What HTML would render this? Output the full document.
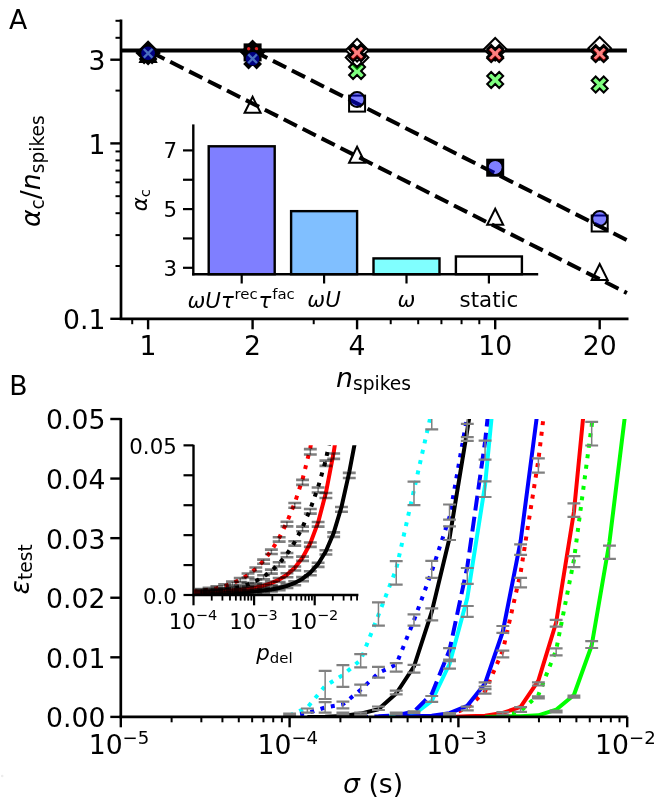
<!DOCTYPE html>
<html><head><meta charset="utf-8"><style>html,body{margin:0;padding:0;background:#fff;}svg{display:block;filter:opacity(1);}</style></head>
<body><svg width="662" height="802" viewBox="0 0 662 802" font-family="'DejaVu Sans', 'Liberation Sans', sans-serif" fill="#000">
<rect width="662" height="802" fill="#fff"/>
<defs><clipPath id="cA"><rect x="121" y="19.6" width="507.5" height="299.2"/></clipPath><clipPath id="cB"><rect x="120.8" y="419" width="506.7" height="297.9"/></clipPath><clipPath id="cI"><rect x="193.5" y="445.3" width="165" height="149.7"/></clipPath></defs>
<text x="8.90" y="29.00" font-size="26.67" text-anchor="start" >A</text>
<line x1="110.30" y1="318.80" x2="121.00" y2="318.80" stroke="#000" stroke-width="2.4" />
<line x1="110.30" y1="143.40" x2="121.00" y2="143.40" stroke="#000" stroke-width="2.4" />
<line x1="110.30" y1="59.71" x2="121.00" y2="59.71" stroke="#000" stroke-width="2.4" />
<line x1="115.50" y1="266.00" x2="121.00" y2="266.00" stroke="#000" stroke-width="2.0" />
<line x1="115.50" y1="235.11" x2="121.00" y2="235.11" stroke="#000" stroke-width="2.0" />
<line x1="115.50" y1="213.20" x2="121.00" y2="213.20" stroke="#000" stroke-width="2.0" />
<line x1="115.50" y1="196.20" x2="121.00" y2="196.20" stroke="#000" stroke-width="2.0" />
<line x1="115.50" y1="182.31" x2="121.00" y2="182.31" stroke="#000" stroke-width="2.0" />
<line x1="115.50" y1="170.57" x2="121.00" y2="170.57" stroke="#000" stroke-width="2.0" />
<line x1="115.50" y1="160.40" x2="121.00" y2="160.40" stroke="#000" stroke-width="2.0" />
<line x1="115.50" y1="151.43" x2="121.00" y2="151.43" stroke="#000" stroke-width="2.0" />
<line x1="115.50" y1="90.60" x2="121.00" y2="90.60" stroke="#000" stroke-width="2.0" />
<line x1="115.50" y1="37.80" x2="121.00" y2="37.80" stroke="#000" stroke-width="2.0" />
<line x1="115.50" y1="20.80" x2="121.00" y2="20.80" stroke="#000" stroke-width="2.0" />
<line x1="148.10" y1="318.80" x2="148.10" y2="329.30" stroke="#000" stroke-width="2.4" />
<line x1="252.59" y1="318.80" x2="252.59" y2="329.30" stroke="#000" stroke-width="2.4" />
<line x1="357.08" y1="318.80" x2="357.08" y2="329.30" stroke="#000" stroke-width="2.4" />
<line x1="495.20" y1="318.80" x2="495.20" y2="329.30" stroke="#000" stroke-width="2.4" />
<line x1="599.69" y1="318.80" x2="599.69" y2="329.30" stroke="#000" stroke-width="2.4" />
<line x1="132.22" y1="318.80" x2="132.22" y2="324.20" stroke="#000" stroke-width="2.0" />
<line x1="313.71" y1="318.80" x2="313.71" y2="324.20" stroke="#000" stroke-width="2.0" />
<line x1="390.71" y1="318.80" x2="390.71" y2="324.20" stroke="#000" stroke-width="2.0" />
<line x1="418.20" y1="318.80" x2="418.20" y2="324.20" stroke="#000" stroke-width="2.0" />
<line x1="441.43" y1="318.80" x2="441.43" y2="324.20" stroke="#000" stroke-width="2.0" />
<line x1="461.56" y1="318.80" x2="461.56" y2="324.20" stroke="#000" stroke-width="2.0" />
<line x1="479.32" y1="318.80" x2="479.32" y2="324.20" stroke="#000" stroke-width="2.0" />
<line x1="121.00" y1="19.60" x2="121.00" y2="320.10" stroke="#000" stroke-width="2.7" />
<line x1="119.70" y1="318.80" x2="628.50" y2="318.80" stroke="#000" stroke-width="2.7" />
<text x="105.40" y="70.00" font-size="26.67" text-anchor="end" >3</text>
<text x="105.40" y="153.90" font-size="26.67" text-anchor="end" >1</text>
<text x="105.40" y="329.10" font-size="26.67" text-anchor="end" >0.1</text>
<text x="148.10" y="355.40" font-size="26.67" text-anchor="middle" >1</text>
<text x="252.59" y="355.40" font-size="26.67" text-anchor="middle" >2</text>
<text x="357.08" y="355.40" font-size="26.67" text-anchor="middle" >4</text>
<text x="495.20" y="355.40" font-size="26.67" text-anchor="middle" >10</text>
<text x="599.69" y="355.40" font-size="26.67" text-anchor="middle" >20</text>
<text x="336" y="386.7" font-size="26.67"><tspan font-style="italic">n</tspan><tspan font-size="18.67" dy="3.6">spikes</tspan></text>
<text transform="translate(40.3,227) rotate(-90)" font-size="26.67"><tspan font-style="italic">α</tspan><tspan font-size="18.67" dy="3.6">c</tspan><tspan dy="-3.6">/</tspan><tspan font-style="italic">n</tspan><tspan font-size="18.67" dy="3.6">spikes</tspan></text>
<rect x="208.70" y="146.29" width="66.0" height="127.91" fill="#7f7fff" stroke="#000" stroke-width="2.4"/>
<rect x="291.10" y="211.15" width="66.0" height="63.05" fill="#80bfff" stroke="#000" stroke-width="2.4"/>
<rect x="373.50" y="258.41" width="66.0" height="15.79" fill="#80ffff" stroke="#000" stroke-width="2.4"/>
<rect x="455.90" y="256.47" width="66.0" height="17.73" fill="#ffffff" stroke="#000" stroke-width="2.4"/>
<line x1="193.30" y1="124.40" x2="193.30" y2="275.40" stroke="#000" stroke-width="2.4" />
<line x1="192.10" y1="274.20" x2="538.20" y2="274.20" stroke="#000" stroke-width="2.4" />
<line x1="183.00" y1="267.80" x2="193.30" y2="267.80" stroke="#000" stroke-width="2.2" />
<line x1="183.00" y1="238.45" x2="193.30" y2="238.45" stroke="#000" stroke-width="2.2" />
<line x1="183.00" y1="209.10" x2="193.30" y2="209.10" stroke="#000" stroke-width="2.2" />
<line x1="183.00" y1="179.75" x2="193.30" y2="179.75" stroke="#000" stroke-width="2.2" />
<line x1="183.00" y1="150.40" x2="193.30" y2="150.40" stroke="#000" stroke-width="2.2" />
<line x1="241.70" y1="274.20" x2="241.70" y2="283.50" stroke="#000" stroke-width="2.2" />
<line x1="324.10" y1="274.20" x2="324.10" y2="283.50" stroke="#000" stroke-width="2.2" />
<line x1="406.50" y1="274.20" x2="406.50" y2="283.50" stroke="#000" stroke-width="2.2" />
<line x1="488.90" y1="274.20" x2="488.90" y2="283.50" stroke="#000" stroke-width="2.2" />
<text x="177.00" y="158.40" font-size="21.33" text-anchor="end" >7</text>
<text x="177.00" y="217.10" font-size="21.33" text-anchor="end" >5</text>
<text x="177.00" y="275.80" font-size="21.33" text-anchor="end" >3</text>
<text transform="translate(146.6,211.2) rotate(-90)" font-size="21.33"><tspan font-style="italic">α</tspan><tspan font-size="14.93" dy="2.9">c</tspan></text>
<text x="187.5" y="308.2" font-size="21.33"><tspan font-style="italic">ωUτ</tspan><tspan font-size="14.93" dx="0.6" dy="-9.2">rec</tspan><tspan font-style="italic" dx="0.9" dy="9.2">τ</tspan><tspan font-size="14.93" dx="0.8" dy="-9.2">fac</tspan></text>
<text x="324.10" y="306.6" font-size="21.33" text-anchor="middle" font-style="italic">ωU</text>
<text x="406.50" y="306.6" font-size="21.33" text-anchor="middle" font-style="italic">ω</text>
<text x="488.90" y="306.6" font-size="21.33" text-anchor="middle">static</text>
<g clip-path="url(#cA)">
<line x1="121.00" y1="50.60" x2="626.90" y2="50.60" stroke="#000" stroke-width="4" />
</g>
<path d="M148.10,46.00 L156.10,62.00 L140.10,62.00 Z" fill="#000" stroke="#000" stroke-width="2.0"/>
<path d="M148.10,41.59 L159.41,52.90 L148.10,64.21 L136.79,52.90 Z" fill="#000" stroke="#000" stroke-width="2.0"/>
<path d="M144.10,47.00 L148.10,51.00 L152.10,47.00 L156.10,51.00 L152.10,55.00 L156.10,59.00 L152.10,63.00 L148.10,59.00 L144.10,63.00 L140.10,59.00 L144.10,55.00 L140.10,51.00 Z" fill="#000" stroke="#000" stroke-width="2.0"/>
<path d="M252.59,96.80 L260.59,112.80 L244.59,112.80 Z" fill="#fff" stroke="#000" stroke-width="2.0"/>
<path d="M252.59,40.99 L263.90,52.30 L252.59,63.61 L241.27,52.30 Z" fill="#000" stroke="#000" stroke-width="2.0"/>
<rect x="244.59" y="44.40" width="16.0" height="16.0" fill="#000" stroke="#000" stroke-width="2.0"/>
<path d="M248.59,52.00 L252.59,56.00 L256.59,52.00 L260.59,56.00 L256.59,60.00 L260.59,64.00 L256.59,68.00 L252.59,64.00 L248.59,68.00 L244.59,64.00 L248.59,60.00 L244.59,56.00 Z" fill="#000" stroke="#000" stroke-width="2.0"/>
<circle cx="248.69" cy="48.7" r="1.7" fill="#e02020"/><circle cx="256.49" cy="48.7" r="1.7" fill="#e02020"/>
<path d="M357.08,146.70 L365.08,162.70 L349.08,162.70 Z" fill="#fff" stroke="#000" stroke-width="2.0"/>
<path d="M357.08,46.19 L368.39,57.50 L357.08,68.81 L345.76,57.50 Z" fill="#fff" stroke="#000" stroke-width="2.0"/>
<path d="M357.08,38.89 L368.39,50.20 L357.08,61.51 L345.76,50.20 Z" fill="#fff" stroke="#000" stroke-width="2.0"/>
<path d="M353.08,44.00 L357.08,48.00 L361.08,44.00 L365.08,48.00 L361.08,52.00 L365.08,56.00 L361.08,60.00 L357.08,56.00 L353.08,60.00 L349.08,56.00 L353.08,52.00 L349.08,48.00 Z" fill="#fff" stroke="#000" stroke-width="2.0"/>
<path d="M353.08,45.30 L357.08,49.30 L361.08,45.30 L365.08,49.30 L361.08,53.30 L365.08,57.30 L361.08,61.30 L357.08,57.30 L353.08,61.30 L349.08,57.30 L353.08,53.30 L349.08,49.30 Z" fill="rgba(255,0,0,0.5)" stroke="#000" stroke-width="2.0"/>
<path d="M353.08,63.00 L357.08,67.00 L361.08,63.00 L365.08,67.00 L361.08,71.00 L365.08,75.00 L361.08,79.00 L357.08,75.00 L353.08,79.00 L349.08,75.00 L353.08,71.00 L349.08,67.00 Z" fill="rgba(0,255,0,0.5)" stroke="#000" stroke-width="2.0"/>
<rect x="349.08" y="95.60" width="16.0" height="16.0" fill="#fff" stroke="#000" stroke-width="2.0"/>
<path d="M495.20,208.80 L503.20,224.80 L487.20,224.80 Z" fill="#fff" stroke="#000" stroke-width="2.0"/>
<path d="M495.20,37.99 L506.51,49.30 L495.20,60.61 L483.89,49.30 Z" fill="#fff" stroke="#000" stroke-width="2.0"/>
<path d="M491.20,44.90 L495.20,48.90 L499.20,44.90 L503.20,48.90 L499.20,52.90 L503.20,56.90 L499.20,60.90 L495.20,56.90 L491.20,60.90 L487.20,56.90 L491.20,52.90 L487.20,48.90 Z" fill="#fff" stroke="#000" stroke-width="2.0"/>
<path d="M491.20,46.20 L495.20,50.20 L499.20,46.20 L503.20,50.20 L499.20,54.20 L503.20,58.20 L499.20,62.20 L495.20,58.20 L491.20,62.20 L487.20,58.20 L491.20,54.20 L487.20,50.20 Z" fill="rgba(255,0,0,0.5)" stroke="#000" stroke-width="2.0"/>
<path d="M491.20,72.00 L495.20,76.00 L499.20,72.00 L503.20,76.00 L499.20,80.00 L503.20,84.00 L499.20,88.00 L495.20,84.00 L491.20,88.00 L487.20,84.00 L491.20,80.00 L487.20,76.00 Z" fill="rgba(0,255,0,0.5)" stroke="#000" stroke-width="2.0"/>
<rect x="487.20" y="159.70" width="16.0" height="16.0" fill="#000" stroke="#000" stroke-width="2.0"/>
<circle cx="495.20" cy="167.40" r="6.8" fill="#fff" stroke="none" stroke-width="0"/>
<path d="M599.69,264.00 L607.69,280.00 L591.69,280.00 Z" fill="#fff" stroke="#000" stroke-width="2.0"/>
<path d="M599.69,36.99 L611.00,48.30 L599.69,59.61 L588.37,48.30 Z" fill="#fff" stroke="#000" stroke-width="2.0"/>
<path d="M595.69,44.90 L599.69,48.90 L603.69,44.90 L607.69,48.90 L603.69,52.90 L607.69,56.90 L603.69,60.90 L599.69,56.90 L595.69,60.90 L591.69,56.90 L595.69,52.90 L591.69,48.90 Z" fill="#fff" stroke="#000" stroke-width="2.0"/>
<path d="M595.69,46.20 L599.69,50.20 L603.69,46.20 L607.69,50.20 L603.69,54.20 L607.69,58.20 L603.69,62.20 L599.69,58.20 L595.69,62.20 L591.69,58.20 L595.69,54.20 L591.69,50.20 Z" fill="rgba(255,0,0,0.5)" stroke="#000" stroke-width="2.0"/>
<path d="M595.69,76.50 L599.69,80.50 L603.69,76.50 L607.69,80.50 L603.69,84.50 L607.69,88.50 L603.69,92.50 L599.69,88.50 L595.69,92.50 L591.69,88.50 L595.69,84.50 L591.69,80.50 Z" fill="rgba(0,255,0,0.5)" stroke="#000" stroke-width="2.0"/>
<rect x="591.69" y="215.50" width="16.0" height="16.0" fill="#fff" stroke="#000" stroke-width="2.0"/>
<g clip-path="url(#cA)">
<line x1="148.10" y1="50.60" x2="626.9" y2="292.97" stroke="#000" stroke-width="4" stroke-dasharray="14.8 6.4" stroke-dashoffset="-3.6"/>
<line x1="252.59" y1="50.60" x2="626.9" y2="240.08" stroke="#000" stroke-width="4" stroke-dasharray="14.8 6.4" stroke-dashoffset="-1.6"/>
</g>
<circle cx="148.10" cy="53.30" r="6.8" fill="#000080"/>
<path d="M143.80,49.00 L152.40,57.60 M143.80,57.60 L152.40,49.00" stroke="#4a70c0" stroke-width="2.3"/>
<circle cx="252.59" cy="58.70" r="6.8" fill="#000080"/>
<path d="M248.29,54.40 L256.89,63.00 M248.29,63.00 L256.89,54.40" stroke="#4a70c0" stroke-width="2.3"/>
<circle cx="357.08" cy="99.50" r="7.5" fill="rgba(0,0,255,0.5)" stroke="#000" stroke-width="2"/>
<circle cx="495.20" cy="167.40" r="7.5" fill="rgba(0,0,255,0.5)" stroke="#000" stroke-width="2"/>
<circle cx="599.69" cy="218.50" r="7.5" fill="rgba(0,0,255,0.5)" stroke="#000" stroke-width="2"/>
<circle cx="2.2" cy="776" r="1.3" fill="#ececec"/>
<text x="9.30" y="394.70" font-size="26.67" text-anchor="start" >B</text>
<text x="105.40" y="727.30" font-size="26.67" text-anchor="end" >0.00</text>
<text x="105.40" y="667.72" font-size="26.67" text-anchor="end" >0.01</text>
<text x="105.40" y="608.14" font-size="26.67" text-anchor="end" >0.02</text>
<text x="105.40" y="548.56" font-size="26.67" text-anchor="end" >0.03</text>
<text x="105.40" y="488.98" font-size="26.67" text-anchor="end" >0.04</text>
<text x="105.40" y="429.40" font-size="26.67" text-anchor="end" >0.05</text>
<text x="119.00" y="754.20" font-size="26.67" text-anchor="middle">10<tspan font-size="18.14" dx="0.0" dy="-9.87">−5</tspan></text>
<text x="287.80" y="754.20" font-size="26.67" text-anchor="middle">10<tspan font-size="18.14" dx="0.0" dy="-9.87">−4</tspan></text>
<text x="456.60" y="754.20" font-size="26.67" text-anchor="middle">10<tspan font-size="18.14" dx="0.0" dy="-9.87">−3</tspan></text>
<text x="625.40" y="754.20" font-size="26.67" text-anchor="middle">10<tspan font-size="18.14" dx="0.0" dy="-9.87">−2</tspan></text>
<text x="343" y="792.5" font-size="26.67"><tspan font-style="italic">σ</tspan> (s)</text>
<text transform="translate(29.2,594.5) rotate(-90)" font-size="26.67"><tspan font-style="italic">ε</tspan><tspan font-size="18.67" dy="3.1">test</tspan></text>
<g clip-path="url(#cB)" fill="none" stroke-linejoin="round">
<path d="M289.60,715.50 L307.37,707.50 L325.14,686.00 L342.91,675.00 L360.68,660.00 L378.45,615.00 L396.22,569.00 L413.99,490.00 L431.76,411.00 L449.53,330.00" stroke="#00ffff" stroke-width="4" stroke-dasharray="4 6.6" />
<path d="M289.60,716.00 L307.37,713.20 L325.14,707.50 L342.91,704.30 L360.68,689.80 L378.45,673.00 L396.22,664.50 L413.99,620.30 L431.76,571.50 L449.53,517.00 L467.30,416.00 L485.07,300.00" stroke="#0000ff" stroke-width="4" stroke-dasharray="4 6.6" />
<path d="M307.37,716.89 L325.14,716.80 L342.91,716.00 L360.68,713.60 L378.45,709.20 L396.22,693.50 L413.99,666.50 L431.76,611.85 L449.53,538.08 L467.30,430.00 L485.07,319.30 L502.84,180.34 L520.61,28.22 L538.38,-131.61 L556.15,-294.15 L573.92,-455.16 L591.69,-611.37 L609.46,-760.42 L627.23,-900.75" stroke="#000000" stroke-width="4"  />
<path d="M378.45,716.88 L396.22,716.00 L413.99,714.30 L431.76,701.00 L449.53,664.00 L467.30,598.00 L485.07,485.00 L502.84,302.00 L520.61,106.50 L538.38,-116.31 L556.15,-345.51 L573.92,-569.56 L591.69,-780.59 L609.46,-974.04 L627.23,-1147.91" stroke="#00ffff" stroke-width="4"  />
<path d="M360.68,716.90 L378.45,716.30 L396.22,715.30 L413.99,711.50 L431.76,694.00 L449.53,650.00 L467.30,566.83 L485.07,441.72 L502.84,276.78 L520.61,82.02 L538.38,-129.84 L556.15,-346.70 L573.92,-558.87 L591.69,-759.64 L609.46,-944.95 L627.23,-1112.90" stroke="#0000ff" stroke-width="4" stroke-dasharray="14.8 6.4" stroke-dashoffset="71.08"/>
<path d="M413.99,716.89 L431.76,716.30 L449.53,714.80 L467.30,708.00 L485.07,691.50 L502.84,650.50 L520.61,572.85 L538.38,460.10 L556.15,312.00 L573.92,136.02 L591.69,-57.75 L609.46,-259.17 L627.23,-459.59" stroke="#ff0000" stroke-width="4" stroke-dasharray="4 6.6" stroke-dashoffset="124.39"/>
<path d="M396.22,716.90 L413.99,716.30 L431.76,715.80 L449.53,713.20 L467.30,705.80 L485.07,683.50 L502.84,631.50 L520.61,541.18 L538.38,405.00 L556.15,264.78 L573.92,86.07 L591.69,-107.15 L609.46,-305.51 L627.23,-501.27" stroke="#0000ff" stroke-width="4"  />
<path d="M467.30,716.90 L485.07,716.30 L502.84,715.50 L520.61,711.00 L538.38,695.00 L556.15,650.00 L573.92,560.00 L591.69,425.50 L609.46,248.48 L627.23,41.00" stroke="#00ff00" stroke-width="4" stroke-dasharray="4 6.6" stroke-dashoffset="177.70"/>
<path d="M449.53,716.90 L467.30,716.30 L485.07,715.80 L502.84,713.00 L520.61,706.80 L538.38,680.70 L556.15,622.50 L573.92,512.00 L591.69,330.00 L609.46,170.62 L627.23,-38.23" stroke="#ff0000" stroke-width="4"  />
<path d="M485.07,716.90 L502.84,716.40 L520.61,716.20 L538.38,715.30 L556.15,709.70 L573.92,695.00 L591.69,645.50 L609.46,542.00 L627.23,397.29" stroke="#00ff00" stroke-width="4"  />
<path d="M289.60,713.50 V715.50" stroke="#808080" stroke-width="1.5"/>
<path d="M283.15,713.50 h12.9 M283.15,715.50 h12.9" stroke="#808080" stroke-width="2.2"/>
<path d="M307.37,708.50 V712.60" stroke="#808080" stroke-width="1.5"/>
<path d="M300.92,708.50 h12.9 M300.92,712.60 h12.9" stroke="#808080" stroke-width="2.2"/>
<path d="M325.14,670.90 V699.00" stroke="#808080" stroke-width="1.5"/>
<path d="M318.69,670.90 h12.9 M318.69,699.00 h12.9" stroke="#808080" stroke-width="2.2"/>
<path d="M325.14,702.10 V712.60" stroke="#808080" stroke-width="1.5"/>
<path d="M318.69,702.10 h12.9 M318.69,712.60 h12.9" stroke="#808080" stroke-width="2.2"/>
<path d="M342.91,665.10 V686.80" stroke="#808080" stroke-width="1.5"/>
<path d="M336.46,665.10 h12.9 M336.46,686.80 h12.9" stroke="#808080" stroke-width="2.2"/>
<path d="M342.91,701.60 V708.40" stroke="#808080" stroke-width="1.5"/>
<path d="M336.46,701.60 h12.9 M336.46,708.40 h12.9" stroke="#808080" stroke-width="2.2"/>
<path d="M342.91,712.50 V714.50" stroke="#808080" stroke-width="1.5"/>
<path d="M336.46,712.50 h12.9 M336.46,714.50 h12.9" stroke="#808080" stroke-width="2.2"/>
<path d="M360.68,654.20 V667.40" stroke="#808080" stroke-width="1.5"/>
<path d="M354.23,654.20 h12.9 M354.23,667.40 h12.9" stroke="#808080" stroke-width="2.2"/>
<path d="M360.68,684.70 V695.30" stroke="#808080" stroke-width="1.5"/>
<path d="M354.23,684.70 h12.9 M354.23,695.30 h12.9" stroke="#808080" stroke-width="2.2"/>
<path d="M360.68,712.50 V714.80" stroke="#808080" stroke-width="1.5"/>
<path d="M354.23,712.50 h12.9 M354.23,714.80 h12.9" stroke="#808080" stroke-width="2.2"/>
<path d="M378.45,602.30 V625.70" stroke="#808080" stroke-width="1.5"/>
<path d="M372.00,602.30 h12.9 M372.00,625.70 h12.9" stroke="#808080" stroke-width="2.2"/>
<path d="M378.45,666.90 V677.70" stroke="#808080" stroke-width="1.5"/>
<path d="M372.00,666.90 h12.9 M372.00,677.70 h12.9" stroke="#808080" stroke-width="2.2"/>
<path d="M378.45,706.50 V710.00" stroke="#808080" stroke-width="1.5"/>
<path d="M372.00,706.50 h12.9 M372.00,710.00 h12.9" stroke="#808080" stroke-width="2.2"/>
<path d="M396.22,561.20 V584.60" stroke="#808080" stroke-width="1.5"/>
<path d="M389.77,561.20 h12.9 M389.77,584.60 h12.9" stroke="#808080" stroke-width="2.2"/>
<path d="M396.22,663.20 V671.70" stroke="#808080" stroke-width="1.5"/>
<path d="M389.77,663.20 h12.9 M389.77,671.70 h12.9" stroke="#808080" stroke-width="2.2"/>
<path d="M396.22,690.70 V694.40" stroke="#808080" stroke-width="1.5"/>
<path d="M389.77,690.70 h12.9 M389.77,694.40 h12.9" stroke="#808080" stroke-width="2.2"/>
<path d="M396.22,712.50 V714.50" stroke="#808080" stroke-width="1.5"/>
<path d="M389.77,712.50 h12.9 M389.77,714.50 h12.9" stroke="#808080" stroke-width="2.2"/>
<path d="M413.99,481.60 V505.10" stroke="#808080" stroke-width="1.5"/>
<path d="M407.54,481.60 h12.9 M407.54,505.10 h12.9" stroke="#808080" stroke-width="2.2"/>
<path d="M413.99,614.40 V625.70" stroke="#808080" stroke-width="1.5"/>
<path d="M407.54,614.40 h12.9 M407.54,625.70 h12.9" stroke="#808080" stroke-width="2.2"/>
<path d="M413.99,664.80 V672.70" stroke="#808080" stroke-width="1.5"/>
<path d="M407.54,664.80 h12.9 M407.54,672.70 h12.9" stroke="#808080" stroke-width="2.2"/>
<path d="M413.99,711.30 V712.90" stroke="#808080" stroke-width="1.5"/>
<path d="M407.54,711.30 h12.9 M407.54,712.90 h12.9" stroke="#808080" stroke-width="2.2"/>
<path d="M431.76,405.00 V429.30" stroke="#808080" stroke-width="1.5"/>
<path d="M425.31,405.00 h12.9 M425.31,429.30 h12.9" stroke="#808080" stroke-width="2.2"/>
<path d="M431.76,560.90 V577.80" stroke="#808080" stroke-width="1.5"/>
<path d="M425.31,560.90 h12.9 M425.31,577.80 h12.9" stroke="#808080" stroke-width="2.2"/>
<path d="M431.76,608.30 V620.40" stroke="#808080" stroke-width="1.5"/>
<path d="M425.31,608.30 h12.9 M425.31,620.40 h12.9" stroke="#808080" stroke-width="2.2"/>
<path d="M431.76,696.00 V701.80" stroke="#808080" stroke-width="1.5"/>
<path d="M425.31,696.00 h12.9 M425.31,701.80 h12.9" stroke="#808080" stroke-width="2.2"/>
<path d="M449.53,504.50 V519.60" stroke="#808080" stroke-width="1.5"/>
<path d="M443.08,504.50 h12.9 M443.08,519.60 h12.9" stroke="#808080" stroke-width="2.2"/>
<path d="M449.53,526.40 V540.00" stroke="#808080" stroke-width="1.5"/>
<path d="M443.08,526.40 h12.9 M443.08,540.00 h12.9" stroke="#808080" stroke-width="2.2"/>
<path d="M449.53,648.20 V661.10" stroke="#808080" stroke-width="1.5"/>
<path d="M443.08,648.20 h12.9 M443.08,661.10 h12.9" stroke="#808080" stroke-width="2.2"/>
<path d="M449.53,659.50 V668.60" stroke="#808080" stroke-width="1.5"/>
<path d="M443.08,659.50 h12.9 M443.08,668.60 h12.9" stroke="#808080" stroke-width="2.2"/>
<path d="M449.53,713.20 V715.00" stroke="#808080" stroke-width="1.5"/>
<path d="M443.08,713.20 h12.9 M443.08,715.00 h12.9" stroke="#808080" stroke-width="2.2"/>
<path d="M467.30,423.90 V440.80" stroke="#808080" stroke-width="1.5"/>
<path d="M460.85,423.90 h12.9 M460.85,440.80 h12.9" stroke="#808080" stroke-width="2.2"/>
<path d="M467.30,405.00 V437.10" stroke="#808080" stroke-width="1.5"/>
<path d="M460.85,405.00 h12.9 M460.85,437.10 h12.9" stroke="#808080" stroke-width="2.2"/>
<path d="M467.30,568.00 V583.80" stroke="#808080" stroke-width="1.5"/>
<path d="M460.85,568.00 h12.9 M460.85,583.80 h12.9" stroke="#808080" stroke-width="2.2"/>
<path d="M467.30,606.00 V616.90" stroke="#808080" stroke-width="1.5"/>
<path d="M460.85,606.00 h12.9 M460.85,616.90 h12.9" stroke="#808080" stroke-width="2.2"/>
<path d="M467.30,706.60 V710.30" stroke="#808080" stroke-width="1.5"/>
<path d="M460.85,706.60 h12.9 M460.85,710.30 h12.9" stroke="#808080" stroke-width="2.2"/>
<path d="M485.07,440.70 V459.70" stroke="#808080" stroke-width="1.5"/>
<path d="M478.62,440.70 h12.9 M478.62,459.70 h12.9" stroke="#808080" stroke-width="2.2"/>
<path d="M485.07,481.30 V497.00" stroke="#808080" stroke-width="1.5"/>
<path d="M478.62,481.30 h12.9 M478.62,497.00 h12.9" stroke="#808080" stroke-width="2.2"/>
<path d="M485.07,682.30 V686.50" stroke="#808080" stroke-width="1.5"/>
<path d="M478.62,682.30 h12.9 M478.62,686.50 h12.9" stroke="#808080" stroke-width="2.2"/>
<path d="M485.07,689.20 V693.70" stroke="#808080" stroke-width="1.5"/>
<path d="M478.62,689.20 h12.9 M478.62,693.70 h12.9" stroke="#808080" stroke-width="2.2"/>
<path d="M502.84,626.00 V632.90" stroke="#808080" stroke-width="1.5"/>
<path d="M496.39,626.00 h12.9 M496.39,632.90 h12.9" stroke="#808080" stroke-width="2.2"/>
<path d="M502.84,650.60 V657.40" stroke="#808080" stroke-width="1.5"/>
<path d="M496.39,650.60 h12.9 M496.39,657.40 h12.9" stroke="#808080" stroke-width="2.2"/>
<path d="M502.84,712.00 V714.50" stroke="#808080" stroke-width="1.5"/>
<path d="M496.39,712.00 h12.9 M496.39,714.50 h12.9" stroke="#808080" stroke-width="2.2"/>
<path d="M520.61,544.30 V554.90" stroke="#808080" stroke-width="1.5"/>
<path d="M514.16,544.30 h12.9 M514.16,554.90 h12.9" stroke="#808080" stroke-width="2.2"/>
<path d="M520.61,577.80 V587.40" stroke="#808080" stroke-width="1.5"/>
<path d="M514.16,577.80 h12.9 M514.16,587.40 h12.9" stroke="#808080" stroke-width="2.2"/>
<path d="M520.61,707.10 V711.90" stroke="#808080" stroke-width="1.5"/>
<path d="M514.16,707.10 h12.9 M514.16,711.90 h12.9" stroke="#808080" stroke-width="2.2"/>
<path d="M538.38,458.30 V472.70" stroke="#808080" stroke-width="1.5"/>
<path d="M531.93,458.30 h12.9 M531.93,472.70 h12.9" stroke="#808080" stroke-width="2.2"/>
<path d="M538.38,682.30 V685.50" stroke="#808080" stroke-width="1.5"/>
<path d="M531.93,682.30 h12.9 M531.93,685.50 h12.9" stroke="#808080" stroke-width="2.2"/>
<path d="M538.38,696.30 V698.40" stroke="#808080" stroke-width="1.5"/>
<path d="M531.93,696.30 h12.9 M531.93,698.40 h12.9" stroke="#808080" stroke-width="2.2"/>
<path d="M556.15,619.90 V626.70" stroke="#808080" stroke-width="1.5"/>
<path d="M549.70,619.90 h12.9 M549.70,626.70 h12.9" stroke="#808080" stroke-width="2.2"/>
<path d="M556.15,648.30 V655.40" stroke="#808080" stroke-width="1.5"/>
<path d="M549.70,648.30 h12.9 M549.70,655.40 h12.9" stroke="#808080" stroke-width="2.2"/>
<path d="M556.15,710.60 V712.40" stroke="#808080" stroke-width="1.5"/>
<path d="M549.70,710.60 h12.9 M549.70,712.40 h12.9" stroke="#808080" stroke-width="2.2"/>
<path d="M573.92,503.30 V516.90" stroke="#808080" stroke-width="1.5"/>
<path d="M567.47,503.30 h12.9 M567.47,516.90 h12.9" stroke="#808080" stroke-width="2.2"/>
<path d="M573.92,556.20 V567.20" stroke="#808080" stroke-width="1.5"/>
<path d="M567.47,556.20 h12.9 M567.47,567.20 h12.9" stroke="#808080" stroke-width="2.2"/>
<path d="M573.92,695.60 V697.60" stroke="#808080" stroke-width="1.5"/>
<path d="M567.47,695.60 h12.9 M567.47,697.60 h12.9" stroke="#808080" stroke-width="2.2"/>
<path d="M591.69,421.80 V445.50" stroke="#808080" stroke-width="1.5"/>
<path d="M585.24,421.80 h12.9 M585.24,445.50 h12.9" stroke="#808080" stroke-width="2.2"/>
<path d="M591.69,641.10 V648.00" stroke="#808080" stroke-width="1.5"/>
<path d="M585.24,641.10 h12.9 M585.24,648.00 h12.9" stroke="#808080" stroke-width="2.2"/>
<path d="M609.46,545.60 V558.90" stroke="#808080" stroke-width="1.5"/>
<path d="M603.01,545.60 h12.9 M603.01,558.90 h12.9" stroke="#808080" stroke-width="2.2"/>
</g>
<line x1="110.30" y1="716.90" x2="120.80" y2="716.90" stroke="#000" stroke-width="2.4" />
<line x1="110.30" y1="657.32" x2="120.80" y2="657.32" stroke="#000" stroke-width="2.4" />
<line x1="110.30" y1="597.74" x2="120.80" y2="597.74" stroke="#000" stroke-width="2.4" />
<line x1="110.30" y1="538.16" x2="120.80" y2="538.16" stroke="#000" stroke-width="2.4" />
<line x1="110.30" y1="478.58" x2="120.80" y2="478.58" stroke="#000" stroke-width="2.4" />
<line x1="110.30" y1="419.00" x2="120.80" y2="419.00" stroke="#000" stroke-width="2.4" />
<line x1="120.80" y1="716.90" x2="120.80" y2="727.30" stroke="#000" stroke-width="2.4" />
<line x1="289.60" y1="716.90" x2="289.60" y2="727.30" stroke="#000" stroke-width="2.4" />
<line x1="458.40" y1="716.90" x2="458.40" y2="727.30" stroke="#000" stroke-width="2.4" />
<line x1="627.20" y1="716.90" x2="627.20" y2="727.30" stroke="#000" stroke-width="2.4" />
<line x1="171.61" y1="716.90" x2="171.61" y2="722.30" stroke="#000" stroke-width="2.0" />
<line x1="201.34" y1="716.90" x2="201.34" y2="722.30" stroke="#000" stroke-width="2.0" />
<line x1="222.43" y1="716.90" x2="222.43" y2="722.30" stroke="#000" stroke-width="2.0" />
<line x1="238.79" y1="716.90" x2="238.79" y2="722.30" stroke="#000" stroke-width="2.0" />
<line x1="252.15" y1="716.90" x2="252.15" y2="722.30" stroke="#000" stroke-width="2.0" />
<line x1="263.45" y1="716.90" x2="263.45" y2="722.30" stroke="#000" stroke-width="2.0" />
<line x1="273.24" y1="716.90" x2="273.24" y2="722.30" stroke="#000" stroke-width="2.0" />
<line x1="281.88" y1="716.90" x2="281.88" y2="722.30" stroke="#000" stroke-width="2.0" />
<line x1="340.41" y1="716.90" x2="340.41" y2="722.30" stroke="#000" stroke-width="2.0" />
<line x1="370.14" y1="716.90" x2="370.14" y2="722.30" stroke="#000" stroke-width="2.0" />
<line x1="391.23" y1="716.90" x2="391.23" y2="722.30" stroke="#000" stroke-width="2.0" />
<line x1="407.59" y1="716.90" x2="407.59" y2="722.30" stroke="#000" stroke-width="2.0" />
<line x1="420.95" y1="716.90" x2="420.95" y2="722.30" stroke="#000" stroke-width="2.0" />
<line x1="432.25" y1="716.90" x2="432.25" y2="722.30" stroke="#000" stroke-width="2.0" />
<line x1="442.04" y1="716.90" x2="442.04" y2="722.30" stroke="#000" stroke-width="2.0" />
<line x1="450.68" y1="716.90" x2="450.68" y2="722.30" stroke="#000" stroke-width="2.0" />
<line x1="509.21" y1="716.90" x2="509.21" y2="722.30" stroke="#000" stroke-width="2.0" />
<line x1="538.94" y1="716.90" x2="538.94" y2="722.30" stroke="#000" stroke-width="2.0" />
<line x1="560.03" y1="716.90" x2="560.03" y2="722.30" stroke="#000" stroke-width="2.0" />
<line x1="576.39" y1="716.90" x2="576.39" y2="722.30" stroke="#000" stroke-width="2.0" />
<line x1="589.75" y1="716.90" x2="589.75" y2="722.30" stroke="#000" stroke-width="2.0" />
<line x1="601.05" y1="716.90" x2="601.05" y2="722.30" stroke="#000" stroke-width="2.0" />
<line x1="610.84" y1="716.90" x2="610.84" y2="722.30" stroke="#000" stroke-width="2.0" />
<line x1="619.48" y1="716.90" x2="619.48" y2="722.30" stroke="#000" stroke-width="2.0" />
<line x1="120.80" y1="418.10" x2="120.80" y2="718.20" stroke="#000" stroke-width="2.7" />
<line x1="119.50" y1="716.90" x2="627.50" y2="716.90" stroke="#000" stroke-width="2.7" />
<g clip-path="url(#cI)" fill="none" stroke-linejoin="round">
<path d="M193.50,593.39 L201.29,593.32 L209.08,593.23 L216.87,593.10 L224.65,592.93 L232.44,592.70 L240.23,592.38 L248.02,591.95 L255.81,591.37 L263.60,590.58 L271.38,589.49 L279.17,587.98 L286.96,585.87 L294.75,582.91 L302.54,578.70 L310.33,572.66 L318.12,563.93 L325.90,551.26 L333.69,532.94 L341.48,506.98 L349.27,472.12 L357.06,431.23" stroke="#000000" stroke-width="4" />
<path d="M193.50,593.15 L201.29,592.71 L209.08,592.12 L216.87,591.32 L224.65,590.26 L232.44,588.84 L240.23,586.94 L248.02,584.43 L255.81,581.09 L263.60,576.71 L271.38,570.97 L279.17,563.53 L286.96,554.01 L294.75,542.00 L302.54,527.12 L310.33,509.00 L318.12,487.08 L325.90,459.65 L333.69,420.70" stroke="#000000" stroke-width="4" stroke-dasharray="4 6.6"/>
<path d="M193.50,591.84 L201.29,591.68 L209.08,591.48 L216.87,591.20 L224.65,590.82 L232.44,590.31 L240.23,589.62 L248.02,588.67 L255.81,587.38 L263.60,585.59 L271.38,583.11 L279.17,579.64 L286.96,574.75 L294.75,567.77 L302.54,557.75 L310.33,543.28 L318.12,522.41 L325.90,492.76 L333.69,452.36 L341.48,402.74" stroke="#ff0000" stroke-width="4" />
<path d="M193.50,591.68 L201.29,590.82 L209.08,589.66 L216.87,588.11 L224.65,586.05 L232.44,583.32 L240.23,579.70 L248.02,574.96 L255.81,568.77 L263.60,560.79 L271.38,550.62 L279.17,537.86 L286.96,522.13 L294.75,502.94 L302.54,479.29 L310.33,447.90 L318.12,398.04" stroke="#ff0000" stroke-width="4" stroke-dasharray="4 6.6"/>
<path d="M201.29,589.01 V592.85" stroke="rgba(0,0,0,0.5)" stroke-width="1.5"/>
<path d="M194.84,589.01 h12.9 M194.84,592.85 h12.9" stroke="rgba(0,0,0,0.5)" stroke-width="2.6"/>
<path d="M209.08,587.87 V591.73" stroke="rgba(0,0,0,0.5)" stroke-width="1.5"/>
<path d="M202.63,587.87 h12.9 M202.63,591.73 h12.9" stroke="rgba(0,0,0,0.5)" stroke-width="2.6"/>
<path d="M216.87,586.36 V590.23" stroke="rgba(0,0,0,0.5)" stroke-width="1.5"/>
<path d="M210.42,586.36 h12.9 M210.42,590.23 h12.9" stroke="rgba(0,0,0,0.5)" stroke-width="2.6"/>
<path d="M224.65,584.34 V588.24" stroke="rgba(0,0,0,0.5)" stroke-width="1.5"/>
<path d="M218.20,584.34 h12.9 M218.20,588.24 h12.9" stroke="rgba(0,0,0,0.5)" stroke-width="2.6"/>
<path d="M232.44,581.67 V585.59" stroke="rgba(0,0,0,0.5)" stroke-width="1.5"/>
<path d="M225.99,581.67 h12.9 M225.99,585.59 h12.9" stroke="rgba(0,0,0,0.5)" stroke-width="2.6"/>
<path d="M240.23,578.13 V582.10" stroke="rgba(0,0,0,0.5)" stroke-width="1.5"/>
<path d="M233.78,578.13 h12.9 M233.78,582.10 h12.9" stroke="rgba(0,0,0,0.5)" stroke-width="2.6"/>
<path d="M248.02,573.49 V577.50" stroke="rgba(0,0,0,0.5)" stroke-width="1.5"/>
<path d="M241.57,573.49 h12.9 M241.57,577.50 h12.9" stroke="rgba(0,0,0,0.5)" stroke-width="2.6"/>
<path d="M255.81,567.43 V571.51" stroke="rgba(0,0,0,0.5)" stroke-width="1.5"/>
<path d="M249.36,567.43 h12.9 M249.36,571.51 h12.9" stroke="rgba(0,0,0,0.5)" stroke-width="2.6"/>
<path d="M263.60,559.62 V563.79" stroke="rgba(0,0,0,0.5)" stroke-width="1.5"/>
<path d="M257.15,559.62 h12.9 M257.15,563.79 h12.9" stroke="rgba(0,0,0,0.5)" stroke-width="2.6"/>
<path d="M271.38,549.67 V553.94" stroke="rgba(0,0,0,0.5)" stroke-width="1.5"/>
<path d="M264.93,549.67 h12.9 M264.93,553.94 h12.9" stroke="rgba(0,0,0,0.5)" stroke-width="2.6"/>
<path d="M279.17,537.18 V541.59" stroke="rgba(0,0,0,0.5)" stroke-width="1.5"/>
<path d="M272.72,537.18 h12.9 M272.72,541.59 h12.9" stroke="rgba(0,0,0,0.5)" stroke-width="2.6"/>
<path d="M286.96,521.78 V526.36" stroke="rgba(0,0,0,0.5)" stroke-width="1.5"/>
<path d="M280.51,521.78 h12.9 M280.51,526.36 h12.9" stroke="rgba(0,0,0,0.5)" stroke-width="2.6"/>
<path d="M294.75,503.01 V507.79" stroke="rgba(0,0,0,0.5)" stroke-width="1.5"/>
<path d="M288.30,503.01 h12.9 M288.30,507.79 h12.9" stroke="rgba(0,0,0,0.5)" stroke-width="2.6"/>
<path d="M302.54,479.86 V484.90" stroke="rgba(0,0,0,0.5)" stroke-width="1.5"/>
<path d="M296.09,479.86 h12.9 M296.09,484.90 h12.9" stroke="rgba(0,0,0,0.5)" stroke-width="2.6"/>
<path d="M310.33,449.14 V454.52" stroke="rgba(0,0,0,0.5)" stroke-width="1.5"/>
<path d="M303.88,449.14 h12.9 M303.88,454.52 h12.9" stroke="rgba(0,0,0,0.5)" stroke-width="2.6"/>
<path d="M201.29,590.86 V594.68" stroke="rgba(0,0,0,0.5)" stroke-width="1.5"/>
<path d="M194.84,590.86 h12.9 M194.84,594.68 h12.9" stroke="rgba(0,0,0,0.5)" stroke-width="2.6"/>
<path d="M209.08,590.28 V594.11" stroke="rgba(0,0,0,0.5)" stroke-width="1.5"/>
<path d="M202.63,590.28 h12.9 M202.63,594.11 h12.9" stroke="rgba(0,0,0,0.5)" stroke-width="2.6"/>
<path d="M216.87,589.50 V593.34" stroke="rgba(0,0,0,0.5)" stroke-width="1.5"/>
<path d="M210.42,589.50 h12.9 M210.42,593.34 h12.9" stroke="rgba(0,0,0,0.5)" stroke-width="2.6"/>
<path d="M224.65,588.46 V592.31" stroke="rgba(0,0,0,0.5)" stroke-width="1.5"/>
<path d="M218.20,588.46 h12.9 M218.20,592.31 h12.9" stroke="rgba(0,0,0,0.5)" stroke-width="2.6"/>
<path d="M232.44,587.07 V590.93" stroke="rgba(0,0,0,0.5)" stroke-width="1.5"/>
<path d="M225.99,587.07 h12.9 M225.99,590.93 h12.9" stroke="rgba(0,0,0,0.5)" stroke-width="2.6"/>
<path d="M240.23,585.21 V589.10" stroke="rgba(0,0,0,0.5)" stroke-width="1.5"/>
<path d="M233.78,585.21 h12.9 M233.78,589.10 h12.9" stroke="rgba(0,0,0,0.5)" stroke-width="2.6"/>
<path d="M248.02,582.75 V586.66" stroke="rgba(0,0,0,0.5)" stroke-width="1.5"/>
<path d="M241.57,582.75 h12.9 M241.57,586.66 h12.9" stroke="rgba(0,0,0,0.5)" stroke-width="2.6"/>
<path d="M255.81,579.49 V583.44" stroke="rgba(0,0,0,0.5)" stroke-width="1.5"/>
<path d="M249.36,579.49 h12.9 M249.36,583.44 h12.9" stroke="rgba(0,0,0,0.5)" stroke-width="2.6"/>
<path d="M263.60,575.20 V579.19" stroke="rgba(0,0,0,0.5)" stroke-width="1.5"/>
<path d="M257.15,575.20 h12.9 M257.15,579.19 h12.9" stroke="rgba(0,0,0,0.5)" stroke-width="2.6"/>
<path d="M271.38,569.58 V573.64" stroke="rgba(0,0,0,0.5)" stroke-width="1.5"/>
<path d="M264.93,569.58 h12.9 M264.93,573.64 h12.9" stroke="rgba(0,0,0,0.5)" stroke-width="2.6"/>
<path d="M279.17,562.30 V566.44" stroke="rgba(0,0,0,0.5)" stroke-width="1.5"/>
<path d="M272.72,562.30 h12.9 M272.72,566.44 h12.9" stroke="rgba(0,0,0,0.5)" stroke-width="2.6"/>
<path d="M286.96,552.99 V557.22" stroke="rgba(0,0,0,0.5)" stroke-width="1.5"/>
<path d="M280.51,552.99 h12.9 M280.51,557.22 h12.9" stroke="rgba(0,0,0,0.5)" stroke-width="2.6"/>
<path d="M294.75,541.23 V545.60" stroke="rgba(0,0,0,0.5)" stroke-width="1.5"/>
<path d="M288.30,541.23 h12.9 M288.30,545.60 h12.9" stroke="rgba(0,0,0,0.5)" stroke-width="2.6"/>
<path d="M302.54,526.67 V531.20" stroke="rgba(0,0,0,0.5)" stroke-width="1.5"/>
<path d="M296.09,526.67 h12.9 M296.09,531.20 h12.9" stroke="rgba(0,0,0,0.5)" stroke-width="2.6"/>
<path d="M310.33,508.94 V513.66" stroke="rgba(0,0,0,0.5)" stroke-width="1.5"/>
<path d="M303.88,508.94 h12.9 M303.88,513.66 h12.9" stroke="rgba(0,0,0,0.5)" stroke-width="2.6"/>
<path d="M318.12,487.49 V492.45" stroke="rgba(0,0,0,0.5)" stroke-width="1.5"/>
<path d="M311.67,487.49 h12.9 M311.67,492.45 h12.9" stroke="rgba(0,0,0,0.5)" stroke-width="2.6"/>
<path d="M325.90,460.65 V465.89" stroke="rgba(0,0,0,0.5)" stroke-width="1.5"/>
<path d="M319.45,460.65 h12.9 M319.45,465.89 h12.9" stroke="rgba(0,0,0,0.5)" stroke-width="2.6"/>
<path d="M201.29,589.85 V593.69" stroke="rgba(0,0,0,0.5)" stroke-width="1.5"/>
<path d="M194.84,589.85 h12.9 M194.84,593.69 h12.9" stroke="rgba(0,0,0,0.5)" stroke-width="2.6"/>
<path d="M209.08,589.65 V593.49" stroke="rgba(0,0,0,0.5)" stroke-width="1.5"/>
<path d="M202.63,589.65 h12.9 M202.63,593.49 h12.9" stroke="rgba(0,0,0,0.5)" stroke-width="2.6"/>
<path d="M216.87,589.38 V593.22" stroke="rgba(0,0,0,0.5)" stroke-width="1.5"/>
<path d="M210.42,589.38 h12.9 M210.42,593.22 h12.9" stroke="rgba(0,0,0,0.5)" stroke-width="2.6"/>
<path d="M224.65,589.01 V592.86" stroke="rgba(0,0,0,0.5)" stroke-width="1.5"/>
<path d="M218.20,589.01 h12.9 M218.20,592.86 h12.9" stroke="rgba(0,0,0,0.5)" stroke-width="2.6"/>
<path d="M232.44,588.51 V592.36" stroke="rgba(0,0,0,0.5)" stroke-width="1.5"/>
<path d="M225.99,588.51 h12.9 M225.99,592.36 h12.9" stroke="rgba(0,0,0,0.5)" stroke-width="2.6"/>
<path d="M240.23,587.84 V591.69" stroke="rgba(0,0,0,0.5)" stroke-width="1.5"/>
<path d="M233.78,587.84 h12.9 M233.78,591.69 h12.9" stroke="rgba(0,0,0,0.5)" stroke-width="2.6"/>
<path d="M248.02,586.91 V590.78" stroke="rgba(0,0,0,0.5)" stroke-width="1.5"/>
<path d="M241.57,586.91 h12.9 M241.57,590.78 h12.9" stroke="rgba(0,0,0,0.5)" stroke-width="2.6"/>
<path d="M255.81,585.64 V589.52" stroke="rgba(0,0,0,0.5)" stroke-width="1.5"/>
<path d="M249.36,585.64 h12.9 M249.36,589.52 h12.9" stroke="rgba(0,0,0,0.5)" stroke-width="2.6"/>
<path d="M263.60,583.89 V587.79" stroke="rgba(0,0,0,0.5)" stroke-width="1.5"/>
<path d="M257.15,583.89 h12.9 M257.15,587.79 h12.9" stroke="rgba(0,0,0,0.5)" stroke-width="2.6"/>
<path d="M271.38,581.47 V585.39" stroke="rgba(0,0,0,0.5)" stroke-width="1.5"/>
<path d="M264.93,581.47 h12.9 M264.93,585.39 h12.9" stroke="rgba(0,0,0,0.5)" stroke-width="2.6"/>
<path d="M279.17,578.07 V582.04" stroke="rgba(0,0,0,0.5)" stroke-width="1.5"/>
<path d="M272.72,578.07 h12.9 M272.72,582.04 h12.9" stroke="rgba(0,0,0,0.5)" stroke-width="2.6"/>
<path d="M286.96,573.28 V577.30" stroke="rgba(0,0,0,0.5)" stroke-width="1.5"/>
<path d="M280.51,573.28 h12.9 M280.51,577.30 h12.9" stroke="rgba(0,0,0,0.5)" stroke-width="2.6"/>
<path d="M294.75,566.45 V570.55" stroke="rgba(0,0,0,0.5)" stroke-width="1.5"/>
<path d="M288.30,566.45 h12.9 M288.30,570.55 h12.9" stroke="rgba(0,0,0,0.5)" stroke-width="2.6"/>
<path d="M302.54,556.65 V560.85" stroke="rgba(0,0,0,0.5)" stroke-width="1.5"/>
<path d="M296.09,556.65 h12.9 M296.09,560.85 h12.9" stroke="rgba(0,0,0,0.5)" stroke-width="2.6"/>
<path d="M310.33,542.48 V546.84" stroke="rgba(0,0,0,0.5)" stroke-width="1.5"/>
<path d="M303.88,542.48 h12.9 M303.88,546.84 h12.9" stroke="rgba(0,0,0,0.5)" stroke-width="2.6"/>
<path d="M318.12,522.06 V526.64" stroke="rgba(0,0,0,0.5)" stroke-width="1.5"/>
<path d="M311.67,522.06 h12.9 M311.67,526.64 h12.9" stroke="rgba(0,0,0,0.5)" stroke-width="2.6"/>
<path d="M325.90,493.05 V497.94" stroke="rgba(0,0,0,0.5)" stroke-width="1.5"/>
<path d="M319.45,493.05 h12.9 M319.45,497.94 h12.9" stroke="rgba(0,0,0,0.5)" stroke-width="2.6"/>
<path d="M333.69,453.51 V458.83" stroke="rgba(0,0,0,0.5)" stroke-width="1.5"/>
<path d="M327.24,453.51 h12.9 M327.24,458.83 h12.9" stroke="rgba(0,0,0,0.5)" stroke-width="2.6"/>
<path d="M201.29,591.46 V595.27" stroke="rgba(0,0,0,0.5)" stroke-width="1.5"/>
<path d="M194.84,591.46 h12.9 M194.84,595.27 h12.9" stroke="rgba(0,0,0,0.5)" stroke-width="2.6"/>
<path d="M209.08,591.36 V595.18" stroke="rgba(0,0,0,0.5)" stroke-width="1.5"/>
<path d="M202.63,591.36 h12.9 M202.63,595.18 h12.9" stroke="rgba(0,0,0,0.5)" stroke-width="2.6"/>
<path d="M216.87,591.24 V595.06" stroke="rgba(0,0,0,0.5)" stroke-width="1.5"/>
<path d="M210.42,591.24 h12.9 M210.42,595.06 h12.9" stroke="rgba(0,0,0,0.5)" stroke-width="2.6"/>
<path d="M224.65,591.07 V594.89" stroke="rgba(0,0,0,0.5)" stroke-width="1.5"/>
<path d="M218.20,591.07 h12.9 M218.20,594.89 h12.9" stroke="rgba(0,0,0,0.5)" stroke-width="2.6"/>
<path d="M232.44,590.84 V594.67" stroke="rgba(0,0,0,0.5)" stroke-width="1.5"/>
<path d="M225.99,590.84 h12.9 M225.99,594.67 h12.9" stroke="rgba(0,0,0,0.5)" stroke-width="2.6"/>
<path d="M240.23,590.54 V594.37" stroke="rgba(0,0,0,0.5)" stroke-width="1.5"/>
<path d="M233.78,590.54 h12.9 M233.78,594.37 h12.9" stroke="rgba(0,0,0,0.5)" stroke-width="2.6"/>
<path d="M248.02,590.12 V593.95" stroke="rgba(0,0,0,0.5)" stroke-width="1.5"/>
<path d="M241.57,590.12 h12.9 M241.57,593.95 h12.9" stroke="rgba(0,0,0,0.5)" stroke-width="2.6"/>
<path d="M255.81,589.55 V593.39" stroke="rgba(0,0,0,0.5)" stroke-width="1.5"/>
<path d="M249.36,589.55 h12.9 M249.36,593.39 h12.9" stroke="rgba(0,0,0,0.5)" stroke-width="2.6"/>
<path d="M263.60,588.77 V592.62" stroke="rgba(0,0,0,0.5)" stroke-width="1.5"/>
<path d="M257.15,588.77 h12.9 M257.15,592.62 h12.9" stroke="rgba(0,0,0,0.5)" stroke-width="2.6"/>
<path d="M271.38,587.71 V591.56" stroke="rgba(0,0,0,0.5)" stroke-width="1.5"/>
<path d="M264.93,587.71 h12.9 M264.93,591.56 h12.9" stroke="rgba(0,0,0,0.5)" stroke-width="2.6"/>
<path d="M279.17,586.23 V590.10" stroke="rgba(0,0,0,0.5)" stroke-width="1.5"/>
<path d="M272.72,586.23 h12.9 M272.72,590.10 h12.9" stroke="rgba(0,0,0,0.5)" stroke-width="2.6"/>
<path d="M286.96,584.17 V588.06" stroke="rgba(0,0,0,0.5)" stroke-width="1.5"/>
<path d="M280.51,584.17 h12.9 M280.51,588.06 h12.9" stroke="rgba(0,0,0,0.5)" stroke-width="2.6"/>
<path d="M294.75,581.27 V585.19" stroke="rgba(0,0,0,0.5)" stroke-width="1.5"/>
<path d="M288.30,581.27 h12.9 M288.30,585.19 h12.9" stroke="rgba(0,0,0,0.5)" stroke-width="2.6"/>
<path d="M302.54,577.15 V581.12" stroke="rgba(0,0,0,0.5)" stroke-width="1.5"/>
<path d="M296.09,577.15 h12.9 M296.09,581.12 h12.9" stroke="rgba(0,0,0,0.5)" stroke-width="2.6"/>
<path d="M310.33,571.24 V575.28" stroke="rgba(0,0,0,0.5)" stroke-width="1.5"/>
<path d="M303.88,571.24 h12.9 M303.88,575.28 h12.9" stroke="rgba(0,0,0,0.5)" stroke-width="2.6"/>
<path d="M318.12,562.70 V566.83" stroke="rgba(0,0,0,0.5)" stroke-width="1.5"/>
<path d="M311.67,562.70 h12.9 M311.67,566.83 h12.9" stroke="rgba(0,0,0,0.5)" stroke-width="2.6"/>
<path d="M325.90,550.30 V554.56" stroke="rgba(0,0,0,0.5)" stroke-width="1.5"/>
<path d="M319.45,550.30 h12.9 M319.45,554.56 h12.9" stroke="rgba(0,0,0,0.5)" stroke-width="2.6"/>
<path d="M333.69,532.36 V536.83" stroke="rgba(0,0,0,0.5)" stroke-width="1.5"/>
<path d="M327.24,532.36 h12.9 M327.24,536.83 h12.9" stroke="rgba(0,0,0,0.5)" stroke-width="2.6"/>
<path d="M341.48,506.96 V511.70" stroke="rgba(0,0,0,0.5)" stroke-width="1.5"/>
<path d="M335.03,506.96 h12.9 M335.03,511.70 h12.9" stroke="rgba(0,0,0,0.5)" stroke-width="2.6"/>
<path d="M349.27,472.85 V477.96" stroke="rgba(0,0,0,0.5)" stroke-width="1.5"/>
<path d="M342.82,472.85 h12.9 M342.82,477.96 h12.9" stroke="rgba(0,0,0,0.5)" stroke-width="2.6"/>
</g>
<line x1="193.50" y1="444.80" x2="193.50" y2="596.20" stroke="#000" stroke-width="2.4" />
<line x1="192.30" y1="595.00" x2="358.40" y2="595.00" stroke="#000" stroke-width="2.4" />
<line x1="183.50" y1="595.00" x2="193.50" y2="595.00" stroke="#000" stroke-width="2.2" />
<line x1="183.50" y1="565.07" x2="193.50" y2="565.07" stroke="#000" stroke-width="2.2" />
<line x1="183.50" y1="535.14" x2="193.50" y2="535.14" stroke="#000" stroke-width="2.2" />
<line x1="183.50" y1="505.21" x2="193.50" y2="505.21" stroke="#000" stroke-width="2.2" />
<line x1="183.50" y1="475.28" x2="193.50" y2="475.28" stroke="#000" stroke-width="2.2" />
<line x1="183.50" y1="445.35" x2="193.50" y2="445.35" stroke="#000" stroke-width="2.2" />
<text x="176.80" y="454.35" font-size="21.33" text-anchor="end" >0.05</text>
<text x="176.80" y="604.00" font-size="21.33" text-anchor="end" >0.0</text>
<line x1="193.50" y1="595.00" x2="193.50" y2="605.30" stroke="#000" stroke-width="2.2" />
<line x1="254.10" y1="595.00" x2="254.10" y2="605.30" stroke="#000" stroke-width="2.2" />
<line x1="314.70" y1="595.00" x2="314.70" y2="605.30" stroke="#000" stroke-width="2.2" />
<line x1="211.74" y1="595.00" x2="211.74" y2="600.60" stroke="#000" stroke-width="1.8" />
<line x1="222.41" y1="595.00" x2="222.41" y2="600.60" stroke="#000" stroke-width="1.8" />
<line x1="229.98" y1="595.00" x2="229.98" y2="600.60" stroke="#000" stroke-width="1.8" />
<line x1="235.86" y1="595.00" x2="235.86" y2="600.60" stroke="#000" stroke-width="1.8" />
<line x1="240.66" y1="595.00" x2="240.66" y2="600.60" stroke="#000" stroke-width="1.8" />
<line x1="244.71" y1="595.00" x2="244.71" y2="600.60" stroke="#000" stroke-width="1.8" />
<line x1="248.23" y1="595.00" x2="248.23" y2="600.60" stroke="#000" stroke-width="1.8" />
<line x1="251.33" y1="595.00" x2="251.33" y2="600.60" stroke="#000" stroke-width="1.8" />
<line x1="272.34" y1="595.00" x2="272.34" y2="600.60" stroke="#000" stroke-width="1.8" />
<line x1="283.01" y1="595.00" x2="283.01" y2="600.60" stroke="#000" stroke-width="1.8" />
<line x1="290.58" y1="595.00" x2="290.58" y2="600.60" stroke="#000" stroke-width="1.8" />
<line x1="296.46" y1="595.00" x2="296.46" y2="600.60" stroke="#000" stroke-width="1.8" />
<line x1="301.26" y1="595.00" x2="301.26" y2="600.60" stroke="#000" stroke-width="1.8" />
<line x1="305.31" y1="595.00" x2="305.31" y2="600.60" stroke="#000" stroke-width="1.8" />
<line x1="308.83" y1="595.00" x2="308.83" y2="600.60" stroke="#000" stroke-width="1.8" />
<line x1="311.93" y1="595.00" x2="311.93" y2="600.60" stroke="#000" stroke-width="1.8" />
<line x1="332.94" y1="595.00" x2="332.94" y2="600.60" stroke="#000" stroke-width="1.8" />
<line x1="343.61" y1="595.00" x2="343.61" y2="600.60" stroke="#000" stroke-width="1.8" />
<line x1="351.18" y1="595.00" x2="351.18" y2="600.60" stroke="#000" stroke-width="1.8" />
<line x1="357.06" y1="595.00" x2="357.06" y2="600.60" stroke="#000" stroke-width="1.8" />
<text x="192.90" y="628.60" font-size="21.33" text-anchor="middle">10<tspan font-size="14.50" dx="0.0" dy="-8.32">−4</tspan></text>
<text x="253.50" y="628.60" font-size="21.33" text-anchor="middle">10<tspan font-size="14.50" dx="0.0" dy="-8.32">−3</tspan></text>
<text x="314.10" y="628.60" font-size="21.33" text-anchor="middle">10<tspan font-size="14.50" dx="0.0" dy="-8.32">−2</tspan></text>
<text x="256.3" y="659.6" font-size="21.33"><tspan font-style="italic">p</tspan><tspan font-size="14.93" dy="3.5">del</tspan></text>
</svg></body></html>
